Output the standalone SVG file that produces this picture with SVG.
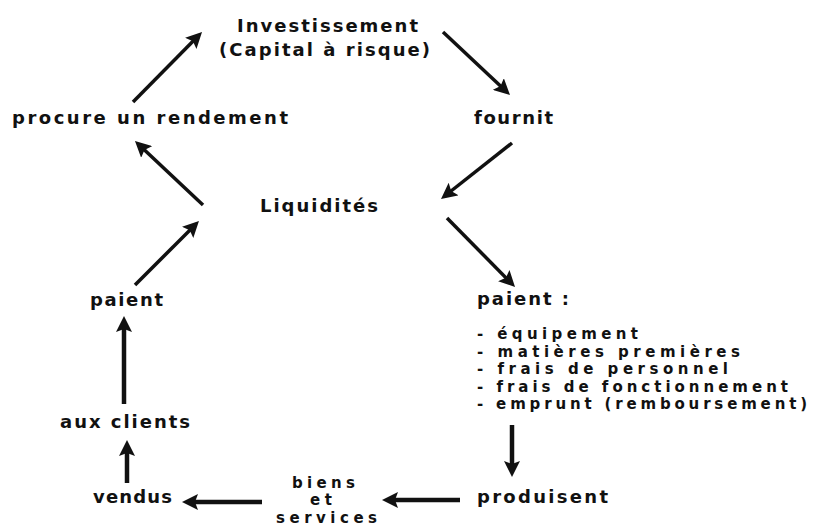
<svg xmlns="http://www.w3.org/2000/svg" width="824" height="527" viewBox="0 0 824 527">
<style>
text{font-family:"DejaVu Sans","Liberation Sans",sans-serif;font-size:18px;font-weight:bold;fill:#111;}
text.t{font-size:15px;}
.c line{stroke:#111;stroke-width:3.5;marker-end:url(#ah);}
.c line.s{stroke-width:4.5;}
</style>
<defs>
<marker id="ah" viewBox="0 0 16 16" refX="8" refY="8" markerWidth="16" markerHeight="16" markerUnits="userSpaceOnUse" orient="auto">
<path d="M0,0 L16,8 L0,16 L3,8 z" fill="#111"/>
</marker>
</defs>
<rect width="824" height="527" fill="#fff"/>
<g id="n-invest">
<text x="237" y="32" textLength="181" lengthAdjust="spacing">Investissement</text>
<text x="219" y="56" textLength="211" lengthAdjust="spacing">(Capital à risque)</text>
</g>
<g id="n-procure"><text x="12" y="124" textLength="276" lengthAdjust="spacing">procure un rendement</text></g>
<g id="n-fournit"><text x="474" y="124" textLength="79" lengthAdjust="spacing">fournit</text></g>
<g id="n-liquidites"><text x="260" y="212" textLength="118" lengthAdjust="spacing">Liquidités</text></g>
<g id="n-paient-l"><text x="90" y="306" textLength="73" lengthAdjust="spacing">paient</text></g>
<g id="n-paient-r">
<text x="477" y="305" textLength="92" lengthAdjust="spacing">paient :</text>
<text class="t" x="477" y="339" textLength="161" lengthAdjust="spacing">- équipement</text>
<text class="t" x="477" y="356.5" textLength="263" lengthAdjust="spacing">- matières premières</text>
<text class="t" x="477" y="374" textLength="251" lengthAdjust="spacing">- frais de personnel</text>
<text class="t" x="477" y="391.5" textLength="311" lengthAdjust="spacing">- frais de fonctionnement</text>
<text class="t" x="477" y="409" textLength="330" lengthAdjust="spacing">- emprunt (remboursement)</text>
</g>
<g id="n-clients"><text x="60" y="428" textLength="130" lengthAdjust="spacing">aux clients</text></g>
<g id="n-vendus"><text x="93" y="503" textLength="79" lengthAdjust="spacing">vendus</text></g>
<g id="n-biens">
<text class="t" x="292" y="487.5" textLength="63" lengthAdjust="spacing">biens</text>
<text class="t" x="310" y="505" textLength="22" lengthAdjust="spacing">et</text>
<text class="t" x="276" y="522.5" textLength="101" lengthAdjust="spacing">services</text>
</g>
<g id="n-produisent"><text x="477" y="503" textLength="131" lengthAdjust="spacing">produisent</text></g>
<g id="connectors" class="c">
<line x1="133" y1="102" x2="196.4" y2="37.7"/>
<line x1="443" y1="32" x2="504.2" y2="89.5"/>
<line x1="512" y1="143" x2="447.3" y2="194"/>
<line x1="447" y1="218" x2="509.4" y2="281.3"/>
<line x1="135" y1="285" x2="193.3" y2="226.7"/>
<line x1="203" y1="205" x2="140.8" y2="146.5"/>
<line class="s" x1="124" y1="404" x2="124" y2="324"/>
<line class="s" x1="127" y1="483" x2="127" y2="448"/>
<line class="s" x1="262" y1="502" x2="190" y2="502"/>
<line class="s" x1="460" y1="500" x2="390" y2="500"/>
<line class="s" x1="512" y1="425" x2="512" y2="469"/>
</g>
</svg>
